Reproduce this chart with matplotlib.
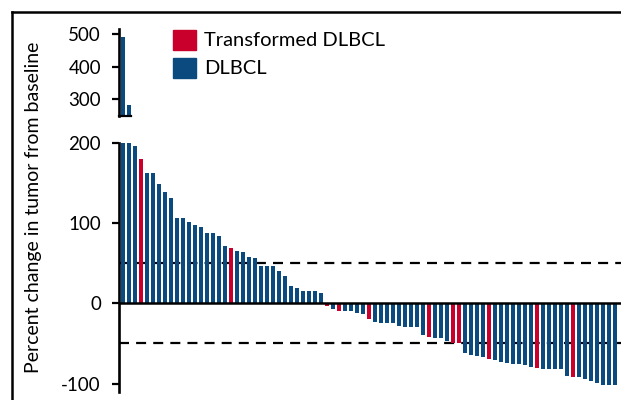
import matplotlib.pyplot as plt
from matplotlib.patches import Patch
from matplotlib.lines import Line2D

plt.rcParams["font.family"] = ["Lato", "DejaVu Sans"]
plt.rcParams["axes.unicode_minus"] = False

# best percent change per patient, sorted
change = [490, 283, 196, 180, 163, 163, 149, 139, 132, 106,
          106, 101, 97.5, 95, 88, 88, 84, 72, 69, 65,
          64, 58, 56, 47, 47, 46, 40, 34, 22, 19,
          15, 15, 15, 13, -3, -7, -9, -9, -9, -12,
          -13, -20, -23, -25, -25, -25, -28, -29, -30, -30,
          -40, -42, -43, -43, -47, -49, -50, -62, -64, -66,
          -67, -69, -70, -73, -74, -75, -75, -77, -79, -80,
          -82, -82, -82, -82, -90, -92, -92, -94, -97, -99,
          -102, -102, -102]
# 1-based bar numbers of transformed DLBCL patients
transformed = [4, 19, 35, 37, 42, 52, 56, 57, 62, 70, 76]

blue = "#0b4a7f"
red = "#c8002b"
x = list(range(len(change)))
colors = [red if i + 1 in transformed else blue for i in x]

fig = plt.figure(figsize=(6.21, 4.00), dpi=100)
ax_top = fig.add_axes([0.1916, 0.71, 0.8084, 0.2175])
ax = fig.add_axes([0.1916, 0.021, 0.8084, 0.6215])

for a in (ax_top, ax):
    a.bar(x, change, width=0.72, color=colors, zorder=2)
    a.set_xlim(-0.64, 83.0)
    for s in ("top", "right"):
        a.spines[s].set_visible(False)
    a.spines["left"].set_linewidth(1.9)
    a.tick_params(axis="y", length=5, width=1.6, pad=8, labelsize=13.5)
    a.set_xticks([])

ax_top.set_ylim(249, 515)
ax_top.set_yticks([300, 400, 500])
ax_top.spines["bottom"].set_linewidth(1.6)
ax_top.spines["bottom"].set_bounds(-0.64, 1.4)

ax.set_ylim(-110, 200)
ax.set_yticks([-100, 0, 100, 200])
ax.spines["bottom"].set_visible(False)
ax.axhline(0, color="black", lw=1.8, zorder=3)
ax.axhline(50, color="black", lw=1.6, ls=(0, (4.5, 3.2)), zorder=1)
ax.axhline(-50, color="black", lw=1.6, ls=(0, (4.5, 3.2)), zorder=1)

fig.text(34 / 621, 1 - 207 / 400, "Percent change in tumor from baseline",
         rotation=90, ha="center", va="center", fontsize=14)

handles = [Patch(color=red, label="Transformed DLBCL"),
           Patch(color=blue, label="DLBCL")]
fig.legend(handles=handles, loc="upper left", bbox_to_anchor=(0.279, 0.926),
           frameon=False, fontsize=14.5, handlelength=1.15, handleheight=1.15,
           handletextpad=0.4, labelspacing=0.4, borderaxespad=0,
           borderpad=0)

# frame edges
fig.add_artist(Line2D([12 / 621, 12 / 621], [0, 1 - 12 / 400], color="black", lw=1.8))
fig.add_artist(Line2D([12 / 621, 1], [1 - 12 / 400, 1 - 12 / 400], color="black", lw=1.8))

fig.savefig("out.png", dpi=100)
